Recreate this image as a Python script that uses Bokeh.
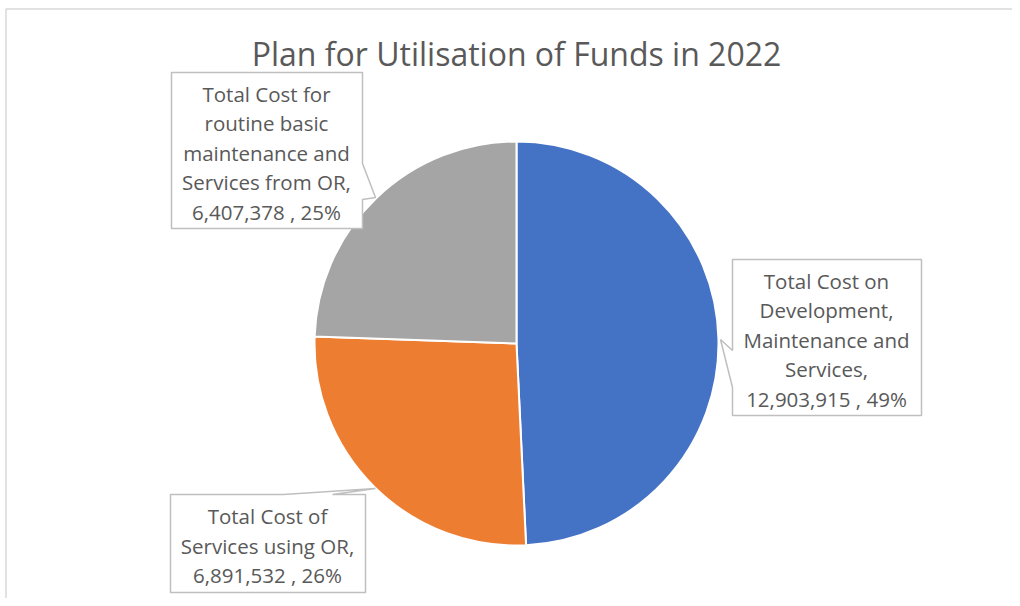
import math
from bokeh.plotting import figure
from bokeh.models import ColumnDataSource, Range1d
from bokeh.core.properties import value
from bokeh.embed import file_html
from bokeh.resources import INLINE

# ---- data ----
title_text = "Plan for Utilisation of Funds in 2022"
categories = [
    ["Total Cost on", "Development,", "Maintenance and", "Services,"],
    ["Total Cost of", "Services using OR,"],
    ["Total Cost for", "routine basic", "maintenance and", "Services from OR,"],
]
values = [12903915, 6891532, 6407378]
pct_labels = ["49%", "26%", "25%"]
colors = ["#4472C4", "#ED7D31", "#A5A5A5"]

# ---- layout helpers (image pixel -> plot coords) ----
W, H = 1012, 598
def P(px, py):
    return px, H - py

p = figure(width=W, height=H, x_range=Range1d(0, W), y_range=Range1d(0, H),
           output_backend="svg", toolbar_location=None,
           x_axis_type=None, y_axis_type=None, min_border=0)
p.grid.visible = False
p.outline_line_color = None
p.background_fill_color = "white"
p.border_fill_color = "white"

FONT = value("Open Sans")
TXT = "#595959"

# chart border (top and left visible)
bx0, by0 = P(5.5, 8.5)
p.line(x=[bx0, bx0, W], y=[0, by0, by0], line_color="#d9d9d9", line_width=1.5)

# title
tx, ty = P(516, 53)
p.text(x=[tx], y=[ty], text=[title_text], text_align="center", text_baseline="middle",
       text_font=FONT, text_font_size="32px", text_color=TXT)

# pie
total = sum(values)
cx, cy = P(516, 343)
R = 202
starts, ends = [], []
cum = 0.0
for v in values:
    starts.append(math.pi / 2 - 2 * math.pi * cum / total)
    cum += v
    ends.append(math.pi / 2 - 2 * math.pi * cum / total)
src = ColumnDataSource(dict(start=starts, end=ends, color=colors))
p.wedge(x=cx, y=cy, radius=R, start_angle="start", end_angle="end", direction="clock",
        fill_color="color", line_color="white", line_width=2, source=src)

# callout boxes
boxes = [
    [(732, 259), (921, 259), (921, 415), (732, 415), (732, 387), (720, 339), (732, 350)],
    [(170, 494), (283, 494), (375, 488), (332, 494), (365, 494), (365, 592), (170, 592)],
    [(171, 72), (362, 72), (362, 163), (375, 197), (362, 199), (362, 228), (171, 228)],
]
for b in boxes:
    xs = [P(*q)[0] for q in b]
    ys = [P(*q)[1] for q in b]
    p.patch(xs, ys, fill_color="white", line_color="#bfbfbf", line_width=1.5)

label_centers = [(826, 339), (267, 545), (266, 152)]
LINE = 29.5
lx, ly, lt = [], [], []
for (ccx, ccy), cat, v, pc in zip(label_centers, categories, values, pct_labels):
    lines = cat + [f"{v:,} , {pc}"]
    n = len(lines)
    for i, s in enumerate(lines):
        x, y = P(ccx, ccy + (i - (n - 1) / 2) * LINE)
        lx.append(x); ly.append(y); lt.append(s)
lsrc = ColumnDataSource(dict(x=lx, y=ly, t=lt))
p.text(x="x", y="y", text="t", source=lsrc, text_align="center", text_baseline="middle",
       text_font=FONT, text_font_size="20.5px", text_color=TXT)

open("out.html", "w").write(file_html(p, INLINE))
